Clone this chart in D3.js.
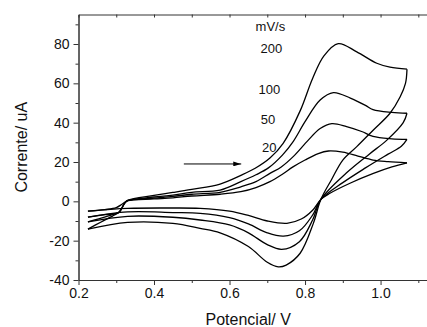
<!DOCTYPE html>
<html>
<head>
<meta charset="utf-8">
<style>
  body {
    background-color: white;
    margin: 0px;
  }
  text {
    font-family: Arial, "Liberation Sans", sans-serif;
    fill: #111;
  }
</style>
<script src="https://cdn.jsdelivr.net/npm/d3@7"></script>
</head>
<body>
<svg></svg>
<script>
const width = 427,
    height = 327;

// tick values
const majorX = [0.2, 0.4, 0.6, 0.8, 1.0];
const minorX = [0.3, 0.5, 0.7, 0.9, 1.1];
const majorY = [-40, -20, 0, 20, 40, 60, 80];
const minorY = [-30, -10, 10, 30, 50, 70, 90];

// sweep rate labels, mV/s, and where they sit [E, I]
const rateLabels = ["mV/s", "200", "100", "50", "20"];
const rateLabelPos = [[0.669, 86.4], [0.682, 75.6], [0.677, 54.4], [0.683, 39.1], [0.686, 25.2]];

// arrow, [E, I]
const arrowFrom = [0.479, 19.0];
const arrowTo = [0.631, 19.0];

// forward (anodic) sweeps, [E / V, I / uA]
const anodic20 = [[0.225, -5.0], [0.27, -4.2], [0.30, -3.2], [0.315, -1.5], [0.33, 0.3], [0.40, 1.2], [0.45, 1.8],
  [0.50, 2.7], [0.575, 3.6], [0.63, 4.9], [0.67, 7.0], [0.707, 10.0], [0.74, 13.8], [0.768, 17.5], [0.80, 21.0],
  [0.835, 24.3], [0.862, 25.6], [0.90, 25.0], [0.94, 23.0], [0.98, 21.0], [1.02, 20.2], [1.07, 19.6]];
const anodic50 = [[0.225, -8.0], [0.27, -6.8], [0.307, -5.6], [0.322, -1.0], [0.33, 0.3], [0.40, 1.6], [0.45, 2.5],
  [0.50, 3.6], [0.575, 4.6], [0.63, 7.4], [0.67, 10.0], [0.707, 14.2], [0.737, 17.5], [0.77, 23.0], [0.808, 31.0],
  [0.84, 37.0], [0.871, 39.5], [0.91, 38.0], [0.95, 35.5], [0.98, 33.0], [1.03, 31.8], [1.07, 31.5]];
const anodic100 = [[0.225, -10.5], [0.26, -8.6], [0.29, -6.8], [0.307, -5.6], [0.322, -1.0], [0.33, 0.4], [0.40, 2.2],
  [0.45, 3.2], [0.50, 4.6], [0.575, 5.7], [0.63, 10.0], [0.67, 13.5], [0.703, 17.0], [0.74, 23.5], [0.769, 30.5],
  [0.80, 40.5], [0.84, 51.5], [0.875, 55.3], [0.92, 52.5], [0.96, 48.8], [0.98, 46.6], [1.03, 45.2], [1.07, 44.8]];
const anodic200 = [[0.225, -14.1], [0.26, -10.5], [0.29, -7.5], [0.307, -5.6], [0.322, -1.0], [0.33, 0.5], [0.40, 3.0],
  [0.45, 4.5], [0.50, 6.1], [0.575, 8.8], [0.63, 13.2], [0.668, 16.8], [0.707, 22.0], [0.742, 29.5], [0.787, 46.0],
  [0.82, 62.5], [0.85, 74.0], [0.888, 80.2], [0.937, 76.0], [0.99, 70.2], [1.025, 68.2], [1.07, 67.2]];

// reverse (cathodic) sweeps, [E / V, I / uA]
const cathodic20 = [[1.07, 19.6], [1.03, 17.5], [0.981, 14.2], [0.919, 9.2], [0.866, 4.1], [0.842, 1.0], [0.82, -4.5],
  [0.79, -9.0], [0.752, -11.2], [0.70, -10.0], [0.65, -7.2], [0.60, -5.0], [0.522, -3.6], [0.45, -3.4],
  [0.33, -3.6], [0.225, -5.0]];
const cathodic50 = [[1.07, 31.5], [1.055, 28.0], [1.02, 24.0], [0.96, 17.0], [0.90, 9.5], [0.842, 1.0], [0.82, -7.0],
  [0.785, -15.0], [0.743, -17.7], [0.70, -16.0], [0.65, -11.5], [0.60, -8.3], [0.522, -6.1], [0.45, -5.7],
  [0.33, -5.4], [0.225, -8.0]];
const cathodic100 = [[1.07, 44.8], [1.06, 40.0], [1.016, 31.0], [0.97, 24.0], [0.91, 14.5], [0.842, 1.0], [0.82, -9.5],
  [0.785, -20.5], [0.738, -24.4], [0.70, -22.0], [0.65, -16.0], [0.60, -12.0], [0.522, -9.5], [0.45, -8.1],
  [0.33, -7.6], [0.225, -10.5]];
const cathodic200 = [[1.07, 67.2], [1.066, 60.0], [1.052, 53.2], [1.025, 44.8], [0.981, 36.3], [0.937, 27.8],
  [0.90, 21.0], [0.87, 11.0], [0.842, 1.0], [0.822, -11.2], [0.787, -26.4], [0.75, -32.4], [0.729, -33.3],
  [0.70, -31.0], [0.65, -23.0], [0.575, -16.0], [0.522, -13.7], [0.45, -11.2], [0.33, -10.7], [0.225, -14.1]];

const branches = [anodic20, anodic50, anodic100, anodic200, cathodic20, cathodic50, cathodic100, cathodic200];

const plotLeft = 78.5, plotRight = 427, plotTop = 14.5, plotBottom = 280;

const x = d3.scaleLinear().domain([0.2, 1.123]).range([plotLeft, plotRight]);
const y = d3.scaleLinear().domain([-40, 95]).range([plotBottom, plotTop]);

const svg = d3.select("svg")
    .attr("width", width)
    .attr("height", height);

// axes
const axisColor = "#333";

function styleAxis(g) {
  g.selectAll("path.domain").attr("stroke", axisColor);
  g.selectAll(".tick line").attr("stroke", axisColor);
  g.selectAll(".tick text").style("font-size", "14px").attr("fill", "#111");
}

svg.append("g")
    .attr("transform", `translate(0,${plotBottom})`)
    .call(d3.axisBottom(x).tickValues(majorX).tickSize(5).tickSizeOuter(0).tickPadding(3)
      .tickFormat(d => d.toFixed(1)))
    .call(styleAxis);
svg.append("g")
    .attr("transform", `translate(0,${plotBottom})`)
    .call(d3.axisBottom(x).tickValues(minorX).tickSize(3).tickSizeOuter(0).tickFormat(""))
    .call(styleAxis);

svg.append("g")
    .attr("transform", `translate(0,${plotTop})`)
    .call(d3.axisBottom(x).tickValues(majorX.concat(minorX)).tickSize(3).tickSizeOuter(0).tickFormat(""))
    .call(styleAxis);

svg.append("g")
    .attr("transform", `translate(${plotLeft},0)`)
    .call(d3.axisLeft(y).tickValues(majorY).tickSize(5).tickSizeOuter(0).tickPadding(4)
      .tickFormat(d => String(d)))
    .call(styleAxis);
svg.append("g")
    .attr("transform", `translate(${plotLeft},0)`)
    .call(d3.axisLeft(y).tickValues(minorY).tickSize(3).tickSizeOuter(0).tickFormat(""))
    .call(styleAxis);

// axis titles
svg.append("text")
    .attr("x", (plotLeft + 418) / 2)
    .attr("y", 325)
    .attr("text-anchor", "middle")
    .style("font-size", "16px")
    .text("Potencial/ V");

svg.append("text")
    .attr("transform", `translate(27,${(plotTop + plotBottom) / 2}) rotate(-90)`)
    .attr("text-anchor", "middle")
    .style("font-size", "16px")
    .text("Corrente/ uA");

// voltammograms
const line = d3.line()
    .curve(d3.curveCatmullRom.alpha(0.5))
    .x(d => x(d[0]))
    .y(d => y(d[1]));

svg.append("g")
  .selectAll("path")
  .data(branches)
  .join("path")
    .attr("d", line)
    .attr("fill", "none")
    .attr("stroke", "black")
    .attr("stroke-width", 1.3)
    .attr("stroke-linejoin", "round");

// rate labels
svg.append("g")
  .selectAll("text")
  .data(rateLabels)
  .join("text")
    .attr("x", (d, i) => x(rateLabelPos[i][0]))
    .attr("y", (d, i) => y(rateLabelPos[i][1]))
    .style("font-size", "13px")
    .text(d => d);

// arrow
svg.append("defs").append("marker")
    .attr("id", "head")
    .attr("viewBox", "0 0 10 6")
    .attr("refX", 10)
    .attr("refY", 3)
    .attr("markerWidth", 8)
    .attr("markerHeight", 5)
    .attr("markerUnits", "userSpaceOnUse")
    .attr("orient", "auto")
  .append("path")
    .attr("d", "M0,0L10,3L0,6Z")
    .attr("fill", "black");

svg.append("line")
    .attr("x1", x(arrowFrom[0]))
    .attr("y1", y(arrowFrom[1]))
    .attr("x2", x(arrowTo[0]))
    .attr("y2", y(arrowTo[1]))
    .attr("stroke", "black")
    .attr("stroke-width", 1)
    .attr("marker-end", "url(#head)");
</script>
</body>
</html>
